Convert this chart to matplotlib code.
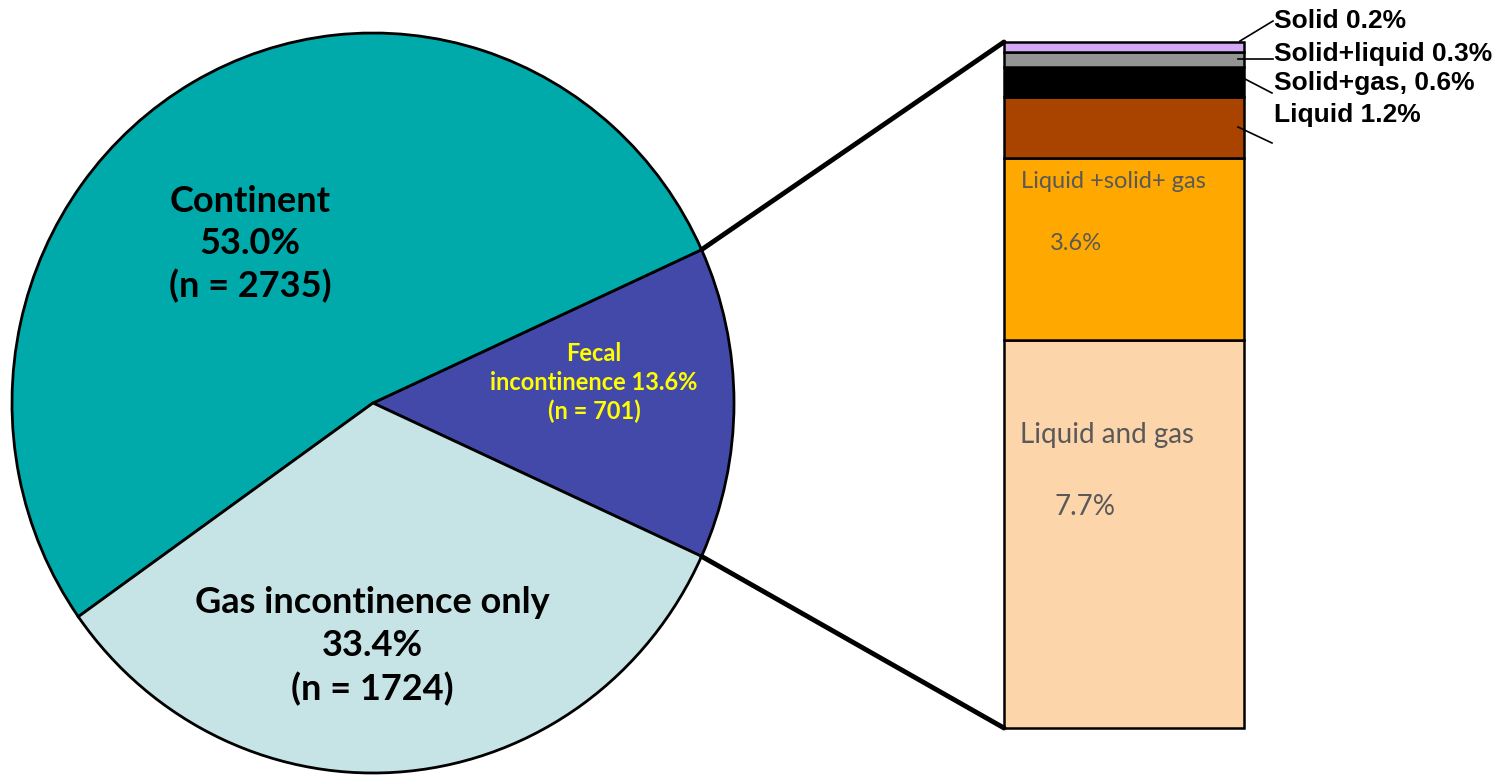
import numpy as np
import matplotlib
matplotlib.use('agg')
import matplotlib.pyplot as plt
from matplotlib.patches import ConnectionPatch

# pie data
pie_labels = ['Fecal\nincontinence 13.6%\n(n = 701)',
              'Continent\n53.0%\n(n = 2735)',
              'Gas incontinence only\n33.4%\n(n = 1724)']
pie_values = [13.6, 53.0, 33.4]
pie_colors = ['#4349A8', '#00A9AA', '#C6E4E6']

# breakdown of fecal incontinence (bottom to top)
bar_names = ['Liquid and gas', 'Liquid +solid+ gas', 'Liquid 1.2%',
             'Solid+gas, 0.6%', 'Solid+liquid 0.3%', 'Solid 0.2%']
bar_values = [7.7, 3.6, 1.2, 0.6, 0.3, 0.2]
bar_pct = ['7.7%', '3.6%']
bar_colors = ['#FDD5AA', '#FFA800', '#A94400', '#000000', '#949494', '#D4A9F8']

W, H = 1497, 775
fig = plt.figure(figsize=(W / 100, H / 100), dpi=100)

# pie axes (pie is slightly taller than wide in the original)
px0, px1, py0, py1 = 12, 734, 33, 773
axp = fig.add_axes([px0 / W, (H - py1) / H, (px1 - px0) / W, (py1 - py0) / H])
start = -pie_values[0] / 100 * 360 / 2
wedges, _ = axp.pie(pie_values, colors=pie_colors, startangle=start, counterclock=True,
                    radius=1, wedgeprops=dict(edgecolor='black', linewidth=2))
for w in wedges:
    w.set_clip_on(False)
axp.set_xlim(-1, 1)
axp.set_ylim(-1, 1)
axp.set_aspect('auto')
axp.axis('off')

# bar axes
bx0, bx1, by0, by1 = 1004, 1244, 728, 42
ax2 = fig.add_axes([bx0 / W, (H - by0) / H, (bx1 - bx0) / W, (by0 - by1) / H])
bottoms = np.concatenate([[0], np.cumsum(bar_values)[:-1]])
ax2.bar(0.5, bar_values, width=1, bottom=bottoms, color=bar_colors,
        edgecolor='black', linewidth=1.8)
total = sum(bar_values)
ax2.set_xlim(0, 1)
ax2.set_ylim(0, total)
ax2.axis('off')
for p in ax2.patches:
    p.set_clip_on(False)

# overlay axes in image pixel coordinates for labels
ax = fig.add_axes([0, 0, 1, 1])
ax.set_xlim(0, W)
ax.set_ylim(H, 0)
ax.axis('off')
ax.patch.set_alpha(0)

lato = ['Lato', 'DejaVu Sans']
ax.text(594, 383, pie_labels[0], ha='center', va='center', color='#FFFF00',
        fontsize=17, fontweight='bold', family=lato, linespacing=1.3)
ax.text(250, 244, pie_labels[1], ha='center', va='center', color='black',
        fontsize=26, fontweight='bold', family=lato, linespacing=1.33)
ax.text(372, 646, pie_labels[2], ha='center', va='center', color='black',
        fontsize=26, fontweight='bold', family=lato, linespacing=1.36)

grey = '#595959'
ax.text(1021, 181, bar_names[1], color=grey, fontsize=17, family=lato, va='center')
ax.text(1050, 243, bar_pct[1], color=grey, fontsize=17, family=lato, va='center')
ax.text(1020, 435, bar_names[0], color=grey, fontsize=20, family=lato, va='center')
ax.text(1055, 507, bar_pct[0], color=grey, fontsize=20, family=lato, va='center')

# small segment labels on the right
arial = ['Liberation Sans', 'DejaVu Sans']
label_base = {5: 28, 4: 61, 3: 90, 2: 122}
leaders = {5: ((1240, 41), (1273, 21)), 4: ((1238, 59), (1273, 59)),
           3: ((1245, 79), (1272, 93)), 2: ((1238, 127), (1272, 143))}
for i in [5, 4, 3, 2]:
    ax.text(1274, label_base[i], bar_names[i], fontsize=19, fontweight='bold',
            family=arial, va='baseline', ha='left')
    (sx, sy), (ex, ey) = leaders[i]
    ax.plot([sx, ex], [sy, ey], color='black', lw=1.2)

# connectors from fecal wedge to bar
fw = wedges[0]
for ang, corner in [(fw.theta2, (0, 1)), (fw.theta1, (0, 0))]:
    x = np.cos(np.radians(ang))
    y = np.sin(np.radians(ang))
    con = ConnectionPatch(xyA=(x, y), coordsA=axp.transData,
                          xyB=corner, coordsB=ax2.transAxes,
                          color='black', linewidth=3.5)
    fig.add_artist(con)

fig.savefig('out.png', dpi=100)
